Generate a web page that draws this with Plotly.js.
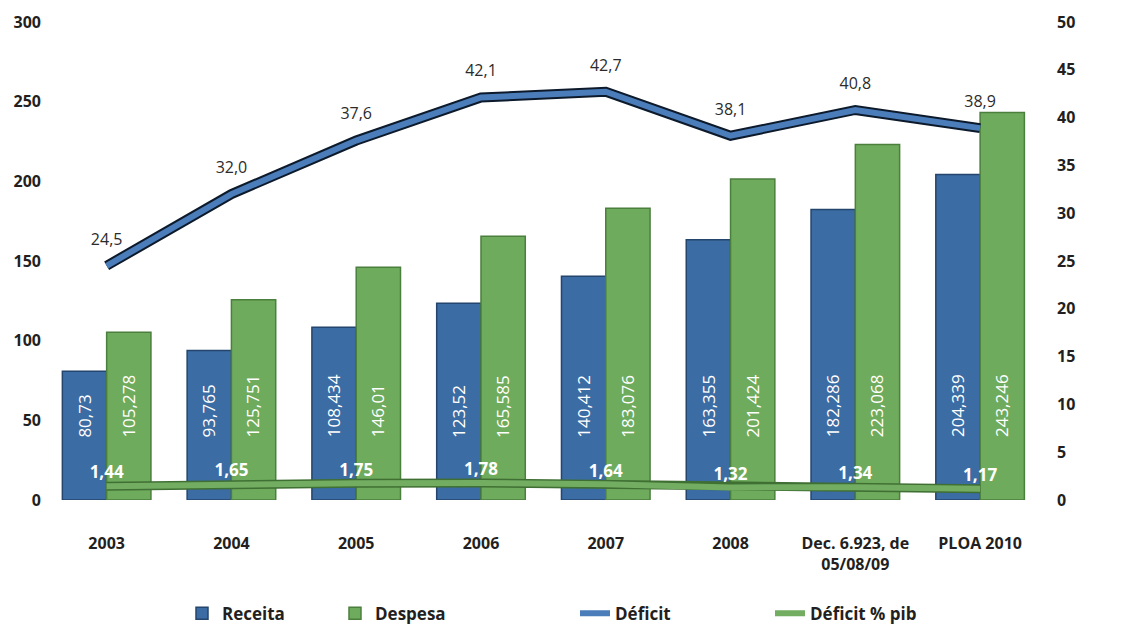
<!DOCTYPE html>
<html>
<head>
<meta charset="utf-8">
<script src="https://cdn.plot.ly/plotly-3.0.1.min.js"></script>
<style>html,body{margin:0;padding:0;background:#fff;}#chart{width:1138px;height:625px;}</style>
</head>
<body>
<div id="chart"></div>
<script>
const categories = ["2003", "2004", "2005", "2006", "2007", "2008", "Dec. 6.923, de<br>05/08/09", "PLOA 2010"];
const receita = [80.73, 93.765, 108.434, 123.52, 140.412, 163.355, 182.286, 204.339];
const despesa = [105.278, 125.751, 146.01, 165.585, 183.076, 201.424, 223.068, 243.246];
const deficit = [24.5, 32.0, 37.6, 42.1, 42.7, 38.1, 40.8, 38.9];
const deficitPib = [1.44, 1.65, 1.75, 1.78, 1.64, 1.32, 1.34, 1.17];
const leftTicks = [0, 50, 100, 150, 200, 250, 300];
const rightTicks = [0, 5, 10, 15, 20, 25, 30, 35, 40, 45, 50];

const comma = s => String(s).replace('.', ',');
const FONT = "Open Sans, Noto Sans, sans-serif";
const DARK = "#231f20";

const traces = [
  {type: 'bar', name: 'Receita', x: categories, y: receita,
   marker: {color: '#3b6ca3', line: {color: '#24456d', width: 1.5}},
   legend: 'legend', hoverinfo: 'skip'},
  {type: 'bar', name: 'Despesa', x: categories, y: despesa,
   marker: {color: '#6fab5d', line: {color: '#4b7f3d', width: 1.5}},
   legend: 'legend', hoverinfo: 'skip'},
  // shadow for deficit line
  {type: 'scatter', mode: 'lines', x: categories, y: deficit, yaxis: 'y2',
   line: {color: '#0d1a2b', width: 10}, showlegend: false, hoverinfo: 'skip'},
  {type: 'scatter', mode: 'lines', name: 'Déficit', x: categories, y: deficit, yaxis: 'y2',
   line: {color: '#4a7db9', width: 6}, legend: 'legend2', hoverinfo: 'skip'},
  {type: 'scatter', mode: 'markers+text', x: categories, y: deficit, yaxis: 'y2',
   marker: {size: 26, opacity: 0}, showlegend: false,
   text: deficit.map(v => comma(v.toFixed(1))), textposition: 'top center',
   textfont: {family: FONT, size: 16, color: '#2b2b2b'}, hoverinfo: 'skip'},
  {type: 'scatter', mode: 'lines', x: categories, y: deficitPib, yaxis: 'y2',
   line: {color: '#3f6f33', width: 9}, showlegend: false, hoverinfo: 'skip'},
  {type: 'scatter', mode: 'lines', name: 'Déficit % pib', x: categories, y: deficitPib, yaxis: 'y2',
   line: {color: '#72ad62', width: 6}, legend: 'legend2', hoverinfo: 'skip'},
  {type: 'scatter', mode: 'markers+text', x: categories, y: deficitPib, yaxis: 'y2',
   marker: {size: 4, opacity: 0}, showlegend: false,
   text: deficitPib.map(v => comma(v.toFixed(2))), textposition: 'top center',
   textfont: {family: FONT, size: 17, color: '#ffffff', weight: 'bold'}, hoverinfo: 'skip'}
];

const annotations = [];
categories.forEach((c, i) => {
  annotations.push({x: i, y: 38, xref: 'x', yref: 'y', text: comma(receita[i]), textangle: -90,
    showarrow: false, xshift: -22, yanchor: 'bottom', font: {family: FONT, size: 17, color: '#ffffff'}});
  annotations.push({x: i, y: 38, xref: 'x', yref: 'y', text: comma(despesa[i]), textangle: -90,
    showarrow: false, xshift: 22, yanchor: 'bottom', font: {family: FONT, size: 17, color: '#ffffff'}});
});

const layout = {
  width: 1138, height: 625,
  margin: {l: 48, r: 98, t: 22, b: 125},
  paper_bgcolor: '#ffffff', plot_bgcolor: '#ffffff',
  font: {family: FONT, color: DARK},
  barmode: 'group', bargap: 0.29, bargroupgap: 0,
  showlegend: true,
  xaxis: {type: 'category', range: [-0.47, 7.48], showgrid: false, zeroline: false, showline: false,
    ticks: '', ticklabelstandoff: 32,
    tickfont: {family: FONT, size: 16, color: DARK, weight: 'bold'}},
  yaxis: {range: [0, 300], tickvals: leftTicks, showgrid: false, zeroline: false, showline: false,
    ticks: '', ticklabelstandoff: 6, tickfont: {family: FONT, size: 16, color: DARK, weight: 'bold'}},
  yaxis2: {range: [0, 50], tickvals: rightTicks, overlaying: 'y', side: 'right', showgrid: false,
    zeroline: false, showline: false, ticks: '', ticklabelstandoff: 16,
    tickfont: {family: FONT, size: 16, color: DARK, weight: 'bold'}},
  legend: {orientation: 'h', xref: 'container', yref: 'container', x: 182 / 1138, y: 0.018,
    xanchor: 'left', yanchor: 'middle', entrywidth: 108, entrywidthmode: 'pixels',
    font: {family: FONT, size: 17, color: DARK, weight: 'bold'}, bgcolor: 'rgba(0,0,0,0)'},
  legend2: {orientation: 'h', xref: 'container', yref: 'container', x: 575 / 1138, y: 0.018,
    xanchor: 'left', yanchor: 'middle', entrywidth: 150, entrywidthmode: 'pixels',
    font: {family: FONT, size: 17, color: DARK, weight: 'bold'}, bgcolor: 'rgba(0,0,0,0)'},
  annotations: annotations
};

Plotly.newPlot('chart', traces, layout, {displayModeBar: false, responsive: false});
</script>
</body>
</html>
